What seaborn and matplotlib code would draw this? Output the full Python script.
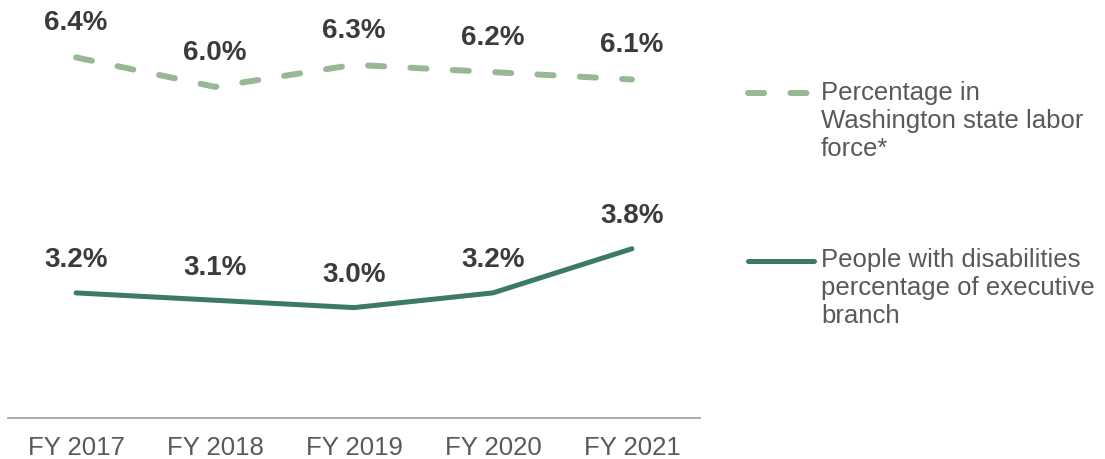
import matplotlib
matplotlib.use("Agg")
import matplotlib.pyplot as plt
import seaborn as sns
import pandas as pd
from matplotlib.lines import Line2D

years = ["FY 2017", "FY 2018", "FY 2019", "FY 2020", "FY 2021"]
labor_force = [6.4, 6.0, 6.3, 6.2, 6.1]
exec_branch = [3.2, 3.1, 3.0, 3.2, 3.8]
labor_label = "Percentage in\nWashington state labor\nforce*"
exec_label = "People with disabilities\npercentage of executive\nbranch"

sns.set_theme(style="white")
plt.rcParams['font.family'] = ['Liberation Sans', 'DejaVu Sans']

light = "#96b894"
dark = "#3a7a66"
label_col = "#3b3b3b"
tick_col = "#595959"

fig = plt.figure(figsize=(11.05, 4.59), dpi=100)
ax = fig.add_axes([8/1105, 41/459, 692/1105, 418/459])

df1 = pd.DataFrame({"year": years, "value": labor_force})
df2 = pd.DataFrame({"year": years, "value": exec_branch})

sns.lineplot(data=df1, x="year", y="value", ax=ax, color=light, linewidth=4.3,
             sort=False)
ln1 = ax.lines[-1]
ln1.set_dashes([2.7, 4.4])
ln1.set_dash_capstyle('round')
sns.lineplot(data=df2, x="year", y="value", ax=ax, color=dark, linewidth=3.6,
             sort=False)
ax.lines[-1].set_solid_capstyle('round')

for i, v in enumerate(labor_force):
    ax.annotate(f"{v:.1f}%", (i, v), xytext=(0, 24.5), textcoords="offset points",
                ha="center", va="center", fontsize=20, fontweight="bold",
                color=label_col, annotation_clip=False)
for i, v in enumerate(exec_branch):
    ax.annotate(f"{v:.1f}%", (i, v), xytext=(0, 23.5), textcoords="offset points",
                ha="center", va="center", fontsize=20, fontweight="bold",
                color=label_col, annotation_clip=False)

ax.set_xlim(-0.49, 4.49)
ax.set_ylim(1.5, 7.18)
ax.set_xlabel("")
ax.set_ylabel("")
ax.set_yticks([])
for s in ["top", "right", "left"]:
    ax.spines[s].set_visible(False)
ax.spines["bottom"].set_color("#a6a6a6")
ax.spines["bottom"].set_linewidth(1.3)
ax.tick_params(axis="x", length=0, pad=13, labelsize=18.5, labelcolor=tick_col)
ax.patch.set_alpha(0)

# legend
W, H = 1105, 459
def fx(px): return px / W
def fy(py): return 1 - py / H

l1 = Line2D([fx(748), fx(808)], [fy(93), fy(93)], color=light, linewidth=4.3,
            transform=fig.transFigure)
l1.set_dashes([2.7, 4.4])
l1.set_dash_capstyle('round')
fig.add_artist(l1)
l2 = Line2D([fx(748), fx(814)], [fy(261), fy(261)], color=dark, linewidth=3.6,
            solid_capstyle='round', transform=fig.transFigure)
fig.add_artist(l2)
fig.text(fx(821), fy(81), labor_label, ha="left", va="top", fontsize=18.5,
         color=tick_col, linespacing=1.2)
fig.text(fx(821), fy(248), exec_label, ha="left", va="top", fontsize=18.5,
         color=tick_col, linespacing=1.2)

fig.savefig("out.png", dpi=100)
